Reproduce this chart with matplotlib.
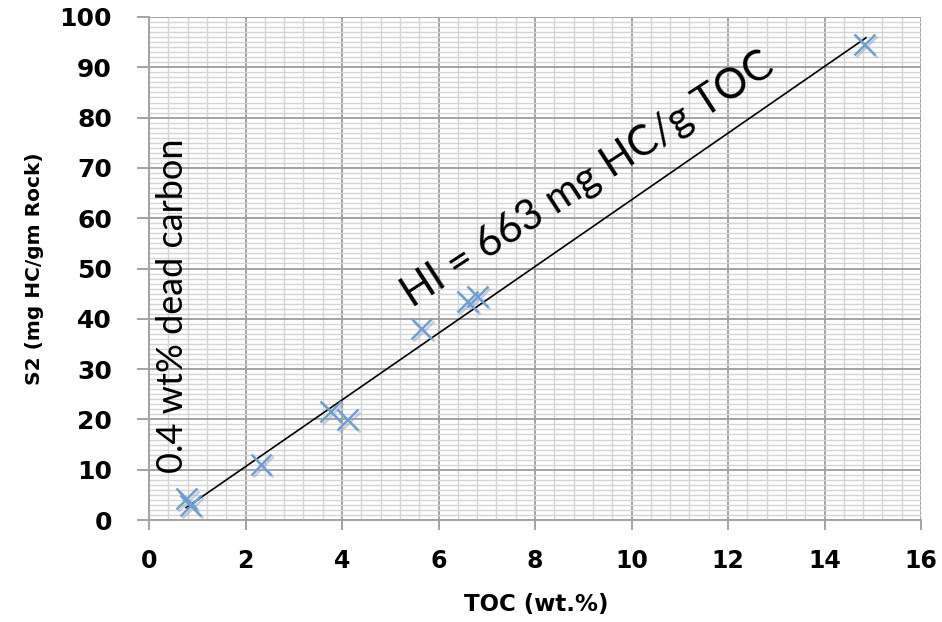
import matplotlib
matplotlib.use("Agg")
import matplotlib.pyplot as plt
import numpy as np
from matplotlib.ticker import MultipleLocator, FixedLocator
import matplotlib.patheffects as pe

# Data
toc = [0.78, 0.86, 2.32, 3.77, 4.12, 5.64, 6.60, 6.81, 14.83]
s2 = [4.2, 2.8, 11.0, 21.6, 19.9, 38.0, 43.5, 44.5, 94.6]
hi_slope = 6.63          # HI = 663 mg HC/g TOC
dead_carbon = 0.4        # wt%
line_x = [0.77, 14.86]
x_ticks = [0, 2, 4, 6, 8, 10, 12, 14, 16]
y_ticks = [0, 10, 20, 30, 40, 50, 60, 70, 80, 90, 100]

W, H = 942, 622
fig = plt.figure(figsize=(W/100, H/100), dpi=100)
x0, x1, ytop, ybot = 149, 921, 17, 520
ax = fig.add_axes([x0/W, 1 - ybot/H, (x1-x0)/W, (ybot-ytop)/H])

# trend line
lx = np.array(line_x)
ax.plot(lx, hi_slope * (lx - dead_carbon), color='black', linewidth=1.2, zorder=3)

# data points
ax.plot(toc, s2, linestyle='none', marker='x', markersize=15, markeredgewidth=1.8,
        color='#6d9fd4', zorder=4,
        path_effects=[pe.SimpleLineShadow(offset=(1.5, -1.5), shadow_color='#9aa4b0', alpha=0.5),
                      pe.Normal()])

ax.set_xlim(0, 16)
ax.set_ylim(0, 100)
ax.xaxis.set_major_locator(FixedLocator(x_ticks))
ax.yaxis.set_major_locator(FixedLocator(y_ticks))
ax.xaxis.set_minor_locator(MultipleLocator(0.4))
ax.yaxis.set_minor_locator(MultipleLocator(1))

ax.grid(which='minor', color='#d4d4d4', linewidth=1.0)
ax.grid(which='major', color='#a3a3a3', linewidth=1.4)
ax.set_axisbelow(True)

for s in ['top', 'right']:
    ax.spines[s].set_visible(False)
for s in ['left', 'bottom']:
    ax.spines[s].set_color('#a3a3a3')
    ax.spines[s].set_linewidth(1.4)

ax.set_xlabel('TOC (wt.%)', fontfamily='DejaVu Sans', fontweight='bold', fontsize=16.5)
ax.set_ylabel('S2 (mg HC/gm Rock)', fontfamily='DejaVu Sans', fontweight='bold', fontsize=14.5)
ax.xaxis.set_label_coords((536 - x0) / (x1 - x0), -(593 - ybot) / (ybot - ytop))
ax.yaxis.set_label_coords(-(x0 - 44) / (x1 - x0), 0.5)

# annotations
ax.text(5.45, 42.2, 'HI = 663 mg HC/g TOC', rotation=33, rotation_mode='anchor',
        fontfamily='Lato', fontsize=30, ha='left', va='baseline', color='black')
ax.text(0.70, 9.4, '0.4 wt% dead carbon', rotation=90, rotation_mode='anchor',
        fontfamily='Lato', fontsize=26, ha='left', va='baseline', color='black')

ax.tick_params(axis='y', which='major', direction='out', length=8.6, width=1.4,
               color='#a3a3a3', pad=18, labelsize=18)
ax.tick_params(axis='x', which='major', direction='out', length=7.2, width=1.4,
               color='#a3a3a3', pad=14, labelsize=17)
ax.tick_params(which='minor', length=0)
for lab in ax.get_yticklabels() + ax.get_xticklabels():
    lab.set_fontfamily('DejaVu Sans')
    lab.set_fontweight('bold')

fig.savefig('out.png', dpi=100)
